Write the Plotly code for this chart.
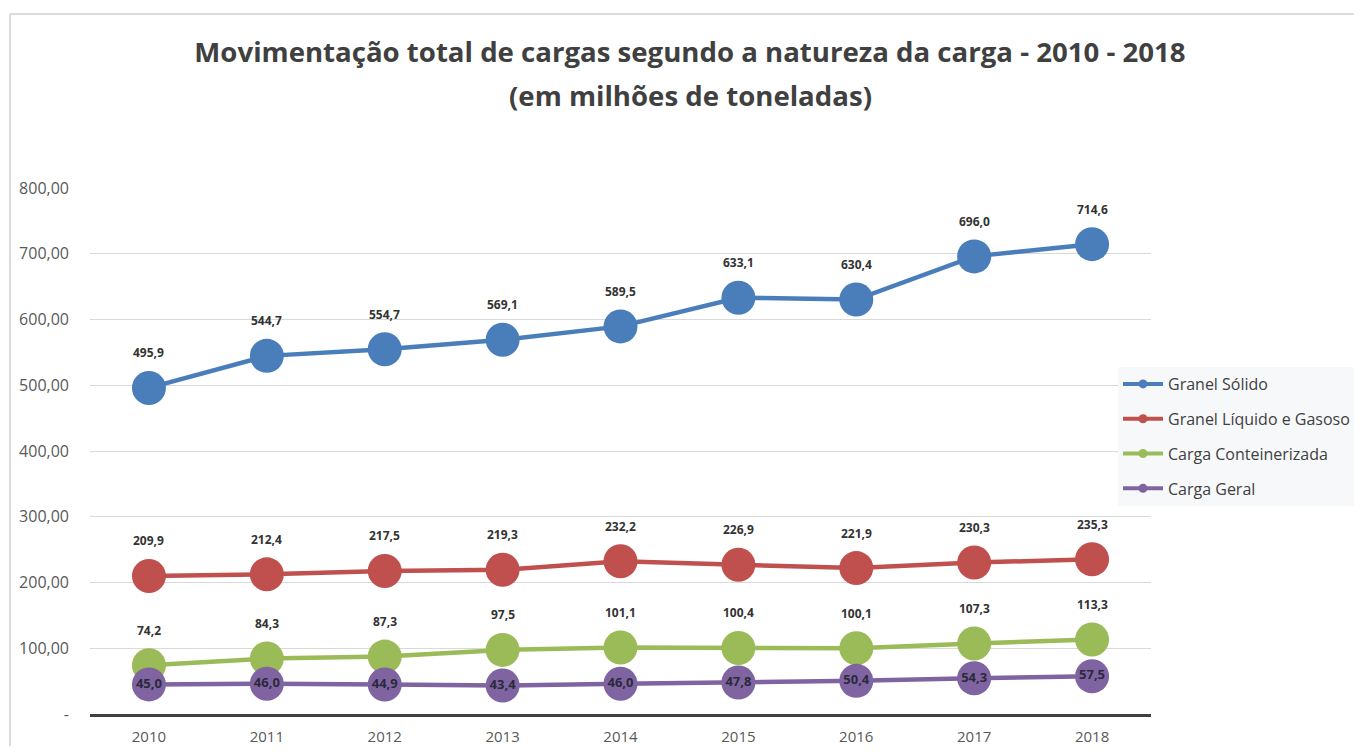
import plotly.graph_objects as go

years = ["2010", "2011", "2012", "2013", "2014", "2015", "2016", "2017", "2018"]
granel_solido = [495.9, 544.7, 554.7, 569.1, 589.5, 633.1, 630.4, 696.0, 714.6]
granel_liquido = [209.9, 212.4, 217.5, 219.3, 232.2, 226.9, 221.9, 230.3, 235.3]
carga_conteinerizada = [74.2, 84.3, 87.3, 97.5, 101.1, 100.4, 100.1, 107.3, 113.3]
carga_geral = [45.0, 46.0, 44.9, 43.4, 46.0, 47.8, 50.4, 54.3, 57.5]
y_tickvals = [0, 100, 200, 300, 400, 500, 600, 700, 800]
y_ticktext = ["-", "100,00", "200,00", "300,00", "400,00", "500,00", "600,00", "700,00", "800,00"]

series = [
    ("Granel Sólido", granel_solido, "#4A7EBB"),
    ("Granel Líquido e Gasoso", granel_liquido, "#C0504D"),
    ("Carga Conteinerizada", carga_conteinerizada, "#9BBB59"),
    ("Carga Geral", carga_geral, "#8064A2"),
]

FONT = "Open Sans"
OFF = 8  # page body margin
W, H = 1362 - 2 * OFF, 754 - 2 * OFF


def fmt(v):
    return f"{v:.1f}".replace(".", ",")


# reference pixel layout -> figure pixel layout
L = 90 - OFF
T = 188 - OFF
R = W - (1151 - OFF)
B = H - (714 - OFF)
pw, ph = W - L - R, H - T - B


def px_x(px):
    return (px - OFF - L) / pw


def px_y(py):
    return (H - B - (py - OFF)) / ph


fig = go.Figure()
annotations = []
for name, vals, color in series:
    inside = name == "Carga Geral"
    fig.add_trace(go.Scatter(
        x=years, y=vals, name=name, showlegend=False,
        mode="lines+markers+text" if inside else "lines+markers",
        line=dict(color=color, width=4.5),
        marker=dict(color=color, size=34),
        text=[fmt(v) for v in vals] if inside else None,
        textposition="middle center",
        textfont=dict(family=FONT, size=13, color="#2a2a3a", weight="bold"),
        hoverinfo="skip",
    ))
    if not inside:
        for i, v in enumerate(vals):
            annotations.append(dict(
                x=i, y=v, xref="x", yref="y", text=fmt(v), showarrow=False,
                yshift=35, font=dict(family=FONT, size=12, color="#333333", weight="bold"),
            ))

# legend-only entries with small markers
for i, (name, vals, color) in enumerate(series):
    fig.add_trace(go.Scatter(
        x=[None], y=[None], name=name, mode="lines+markers",
        legendgroup=f"g{i}",
        line=dict(color=color, width=4),
        marker=dict(color=color, size=9),
    ))

annotations.append(dict(
    x=px_x(690), y=px_y(95), xref="paper", yref="paper", xanchor="center", yanchor="middle",
    text="(em milhões de toneladas)", showarrow=False,
    font=dict(family=FONT, size=27.6, color="#404040", weight="bold"),
))

fig.update_layout(
    width=W, height=H,
    margin=dict(l=L, r=R, t=T, b=B, autoexpand=False),
    paper_bgcolor="white", plot_bgcolor="white",
    font=dict(family=FONT, color="#595959"),
    title=dict(
        text="Movimentação total de cargas segundo a natureza da carga - 2010 - 2018",
        x=(690 - OFF) / W, xanchor="center", y=1 - (52 - OFF) / H, yanchor="middle",
        font=dict(family=FONT, size=27.6, color="#404040", weight="bold"),
    ),
    xaxis=dict(
        type="category", range=[-0.5, 8.5], showgrid=False, automargin=False,
        showline=True, linecolor="#404040", linewidth=3,
        ticks="", tickfont=dict(size=15, color="#595959"), ticklabelstandoff=7,
    ),
    yaxis=dict(
        range=[0, 800], tickvals=y_tickvals, ticktext=y_ticktext, automargin=False,
        showgrid=True, gridcolor="#d9d9d9", gridwidth=1, zeroline=False,
        ticks="", tickfont=dict(size=16, color="#595959"), ticklabelstandoff=20,
    ),
    legend=dict(
        x=px_x(1118), y=px_y(367), xanchor="left", yanchor="top",
        bgcolor="#f7f8fa", borderwidth=0, tracegroupgap=11,
        font=dict(family=FONT, size=16, color="#404040"),
        itemwidth=40,
    ),
    annotations=annotations,
    shapes=[
        dict(type="line", xref="paper", yref="paper", x0=px_x(10), x1=px_x(10),
             y0=px_y(14), y1=px_y(760), line=dict(color="#d0d0d0", width=1.5)),
        dict(type="line", xref="paper", yref="paper", x0=px_x(10), x1=px_x(1370),
             y0=px_y(14), y1=px_y(14), line=dict(color="#d0d0d0", width=1.5)),
    ],
)

fig.write_html("out.html")
